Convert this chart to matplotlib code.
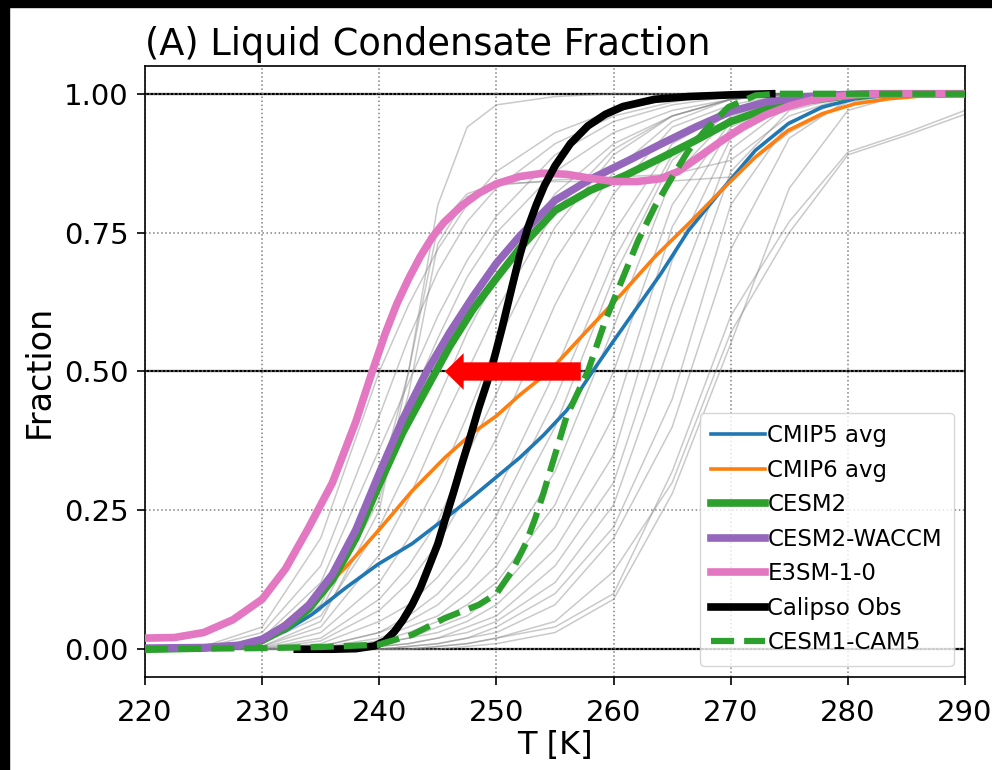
import numpy as np
import matplotlib
matplotlib.use("Agg")
import matplotlib.pyplot as plt
from matplotlib.patches import Rectangle
from matplotlib.ticker import FormatStrFormatter

# ── data ────────────────────────────────────────────────────────
# gray: individual models, sampled on a common temperature grid
T_gray = [220, 225, 230, 235, 240, 242.5, 245, 247.5, 250, 255, 260, 265, 270, 275, 280, 285, 290]
gray_models = [
    [0, 0, 0.005, 0.05, 0.25, 0.5, 0.8, 0.94, 0.98, 0.995, 1, 1, 1, 1, 1, 1, 1],
    [0, 0.002, 0.01, 0.08, 0.3, 0.5, 0.76, 0.82, 0.838, 0.842, 0.842, 0.843, 0.85, 0.93, 0.985, 1, 1],
    [0, 0.002, 0.01, 0.07, 0.27, 0.46, 0.73, 0.815, 0.835, 0.845, 0.85, 0.855, 0.88, 0.96, 0.995, 1, 1],
    [0, 0.005, 0.04, 0.2, 0.5, 0.62, 0.72, 0.8, 0.86, 0.93, 0.97, 0.99, 1, 1, 1, 1, 1],
    [0, 0.003, 0.03, 0.15, 0.42, 0.56, 0.68, 0.77, 0.83, 0.91, 0.96, 0.985, 1, 1, 1, 1, 1],
    [0, 0.002, 0.02, 0.12, 0.36, 0.48, 0.6, 0.7, 0.78, 0.89, 0.95, 0.98, 0.995, 1, 1, 1, 1],
    [0, 0.001, 0.015, 0.1, 0.3, 0.44, 0.56, 0.67, 0.75, 0.86, 0.93, 0.97, 0.99, 1, 1, 1, 1],
    [0, 0, 0.01, 0.06, 0.22, 0.33, 0.45, 0.57, 0.67, 0.82, 0.91, 0.96, 0.99, 1, 1, 1, 1],
    [0, 0, 0.005, 0.04, 0.17, 0.27, 0.39, 0.5, 0.61, 0.79, 0.9, 0.96, 0.99, 1, 1, 1, 1],
    [0, 0, 0.003, 0.03, 0.12, 0.2, 0.3, 0.42, 0.55, 0.76, 0.89, 0.96, 0.99, 1, 1, 1, 1],
    [0, 0, 0.002, 0.02, 0.09, 0.15, 0.23, 0.35, 0.46, 0.7, 0.86, 0.95, 0.99, 1, 1, 1, 1],
    [0, 0, 0.001, 0.015, 0.07, 0.12, 0.19, 0.28, 0.38, 0.62, 0.82, 0.94, 0.98, 1, 1, 1, 1],
    [0, 0, 0, 0.01, 0.05, 0.08, 0.13, 0.2, 0.28, 0.5, 0.75, 0.91, 0.97, 0.99, 1, 1, 1],
    [0, 0, 0, 0.005, 0.03, 0.06, 0.1, 0.16, 0.24, 0.45, 0.7, 0.89, 0.97, 0.99, 1, 1, 1],
    [0, 0, 0, 0.005, 0.03, 0.05, 0.08, 0.13, 0.2, 0.4, 0.67, 0.88, 0.97, 0.995, 1, 1, 1],
    [0, 0, 0, 0.003, 0.02, 0.04, 0.06, 0.1, 0.15, 0.32, 0.58, 0.85, 0.96, 0.99, 1, 1, 1],
    [0, 0, 0, 0.002, 0.015, 0.03, 0.05, 0.08, 0.12, 0.26, 0.5, 0.8, 0.95, 0.99, 1, 1, 1],
    [0, 0, 0, 0, 0.01, 0.02, 0.04, 0.06, 0.1, 0.22, 0.42, 0.76, 0.94, 0.99, 1, 1, 1],
    [0, 0, 0, 0, 0.01, 0.02, 0.03, 0.05, 0.08, 0.18, 0.35, 0.7, 0.92, 0.98, 1, 1, 1],
    [0, 0, 0, 0, 0.005, 0.01, 0.02, 0.04, 0.06, 0.15, 0.3, 0.62, 0.9, 0.98, 1, 1, 1],
    [0, 0, 0, 0, 0.005, 0.01, 0.02, 0.03, 0.05, 0.12, 0.26, 0.56, 0.86, 0.97, 0.995, 1, 1],
    [0, 0, 0, 0, 0, 0.005, 0.01, 0.02, 0.04, 0.1, 0.22, 0.45, 0.8, 0.95, 0.99, 1, 1],
    [0, 0, 0, 0, 0, 0.005, 0.01, 0.02, 0.03, 0.08, 0.2, 0.4, 0.72, 0.92, 0.99, 1, 1],
    [0, 0, 0, 0, 0, 0, 0.005, 0.01, 0.02, 0.05, 0.14, 0.3, 0.57, 0.75, 0.89, 0.925, 0.963],
    [0, 0, 0, 0, 0, 0, 0.005, 0.01, 0.02, 0.04, 0.1, 0.32, 0.6, 0.77, 0.895, 0.93, 0.97],
    [0, 0, 0, 0, 0, 0, 0, 0.005, 0.01, 0.03, 0.09, 0.28, 0.55, 0.83, 0.97, 1, 1],
]

T_cmip5 = [220, 225, 228, 230, 232, 234.2, 237.1, 239.9, 242.8, 245.6, 248, 250, 252, 254, 256, 258.2,
           260, 262, 264, 266.4, 269.2, 272.1, 274.9, 277.8, 280.6, 283.5, 290]
F_cmip5 = [0.0, 0.002, 0.008, 0.017, 0.033, 0.062, 0.11, 0.153, 0.19, 0.235, 0.275, 0.31, 0.345, 0.385,
           0.43, 0.5, 0.555, 0.615, 0.675, 0.754, 0.826, 0.898, 0.946, 0.976, 0.991, 0.998, 1.0]

T_cmip6 = [220, 225, 227.5, 229.4, 231.4, 234.2, 237.1, 239.9, 242.8, 245.6, 248, 250, 252, 254.5,
           257.8, 260.7, 263.5, 266.4, 269.2, 272.1, 274.9, 277.8, 280.6, 283.5, 286.3, 290]
F_cmip6 = [0.0, 0.002, 0.006, 0.014, 0.038, 0.086, 0.147, 0.213, 0.285, 0.345, 0.39, 0.42, 0.458, 0.5,
           0.575, 0.64, 0.706, 0.766, 0.826, 0.886, 0.934, 0.964, 0.982, 0.991, 0.996, 1.0]

T_cesm2 = [220, 225, 228, 230, 232, 234, 236, 238, 240, 242, 244, 246, 248, 250, 252, 255, 258, 261,
           264, 267, 270, 273, 276, 279, 282, 290]
F_cesm2 = [0.0, 0.002, 0.006, 0.016, 0.038, 0.073, 0.125, 0.2, 0.297, 0.39, 0.468, 0.545, 0.612, 0.668,
           0.722, 0.79, 0.826, 0.853, 0.884, 0.916, 0.95, 0.972, 0.986, 0.994, 0.999, 1.0]

T_waccm = [220, 225, 228, 230, 232, 234, 236, 238, 240, 242, 244, 246, 248, 250, 252, 255, 258, 261,
           264, 267, 270, 273, 276, 279, 282, 290]
F_waccm = [0.002, 0.003, 0.007, 0.018, 0.043, 0.08, 0.135, 0.215, 0.317, 0.414, 0.498, 0.57, 0.635,
           0.695, 0.744, 0.808, 0.846, 0.877, 0.909, 0.94, 0.968, 0.985, 0.994, 0.998, 1.0, 1.0]

T_e3sm = [220, 222.5, 225, 227.5, 230, 232, 234, 236, 238, 239.4, 240.5, 241.5, 242.5, 243.5, 244.5,
          245.5, 247, 248.5, 250, 252, 254, 256, 258, 260, 262, 264, 265.5, 267, 269, 271, 273, 275,
          277, 279, 281, 283, 290]
F_e3sm = [0.02, 0.021, 0.03, 0.053, 0.09, 0.145, 0.22, 0.30, 0.41, 0.50, 0.568, 0.622, 0.667, 0.707,
          0.741, 0.768, 0.798, 0.821, 0.838, 0.851, 0.857, 0.855, 0.848, 0.842, 0.842, 0.847, 0.86,
          0.882, 0.912, 0.94, 0.962, 0.978, 0.989, 0.995, 0.999, 1.0, 1.0]

T_obs = [233, 236, 238, 239.6, 240.5, 241.3, 242, 242.8, 243.5, 244.2, 245, 245.6, 246.3, 247, 247.8,
         248.5, 249.2, 249.7, 250.5, 251.3, 252, 252.7, 253.4, 254.1, 255, 256.3, 257.8, 259.3, 260.8,
         263.5, 266.4, 270, 273.5]
F_obs = [0.0, 0.0, 0.001, 0.006, 0.015, 0.032, 0.052, 0.08, 0.11, 0.147, 0.19, 0.232, 0.28, 0.33,
         0.385, 0.435, 0.48, 0.515, 0.58, 0.65, 0.71, 0.76, 0.80, 0.835, 0.87, 0.91, 0.942, 0.963,
         0.977, 0.99, 0.995, 0.998, 1.0]

T_cam5 = [220, 225, 230, 235, 239.9, 242.8, 245.6, 248.5, 250, 251.3, 252.5, 253.3, 254, 255, 256,
          257.8, 259.3, 260.7, 262.1, 263.5, 265, 266.4, 267.8, 269.8, 272.1, 274, 290]
F_cam5 = [0.0, 0.001, 0.002, 0.004, 0.008, 0.026, 0.056, 0.08, 0.1, 0.14, 0.19, 0.235, 0.28, 0.35,
          0.42, 0.50, 0.592, 0.664, 0.736, 0.796, 0.85, 0.898, 0.934, 0.976, 0.997, 1.0, 1.0]

# arrow: shift at the 50% level
arrow_start = 257.2
arrow_end = 245.6

# ── figure ──────────────────────────────────────────────────────
fig = plt.figure(figsize=(9.92, 7.7), dpi=100)
fig.patch.set_facecolor("white")
ax = fig.add_axes([0.1462, 0.1208, 0.8266, 0.7935])

for y in [0.0, 0.5, 1.0]:
    ax.axhline(y, color="black", lw=1.6, zorder=1)

for vals in gray_models:
    ax.plot(T_gray, vals, color="gray", alpha=0.42, lw=1.1, zorder=2)

ax.plot(T_cmip5, F_cmip5, color="C0", lw=2.6, label="CMIP5 avg", zorder=3)
ax.plot(T_cmip6, F_cmip6, color="C1", lw=2.6, label="CMIP6 avg", zorder=3)
ax.plot(T_cesm2, F_cesm2, color="C2", lw=5.5, label="CESM2", zorder=3)
ax.plot(T_waccm, F_waccm, color="C4", lw=5.5, label="CESM2-WACCM", zorder=3)
ax.plot(T_e3sm, F_e3sm, color="C6", lw=5.5, label="E3SM-1-0", zorder=3)
ax.plot(T_obs, F_obs, color="black", lw=5.5, label="Calipso Obs", zorder=3)
ax.plot(T_cam5, F_cam5, color="C2", lw=4.5, ls="--", label="CESM1-CAM5", zorder=3)

ax.arrow(arrow_start, 0.5, arrow_end - arrow_start, 0, width=0.033, head_width=0.066,
         head_length=1.6, length_includes_head=True, color="red", lw=0, zorder=5)

ax.set_xlim(220, 290)
ax.set_ylim(-0.05, 1.05)
ax.set_xticks(np.arange(220, 291, 10))
ax.set_yticks([0, 0.25, 0.5, 0.75, 1.0])
ax.yaxis.set_major_formatter(FormatStrFormatter("%.2f"))
ax.tick_params(labelsize=21, length=6, width=1.2, pad=6)
ax.tick_params(axis="x", pad=10)
ax.grid(True, linestyle=":", color="gray", lw=1.1)
for sp in ax.spines.values():
    sp.set_linewidth(1.2)

ax.set_xlabel("T [K]", fontsize=23, labelpad=2)
ax.set_ylabel("Fraction", fontsize=24, labelpad=6)
ax.set_title("(A) Liquid Condensate Fraction", loc="left", fontsize=26.5, pad=8)

ax.legend(loc="lower right", fontsize=16.5, handlelength=2.35, labelspacing=0.5,
          handletextpad=0.1, borderpad=0.5)

# black strips along the top and left edge of the reference image
fig.patches.append(Rectangle((0, 0), 9 / 992, 1, transform=fig.transFigure,
                             color="black", zorder=10))
fig.patches.append(Rectangle((0, 1 - 7 / 770), 1, 7 / 770, transform=fig.transFigure,
                             color="black", zorder=10))

fig.savefig("out.png", dpi=100, facecolor="white")
